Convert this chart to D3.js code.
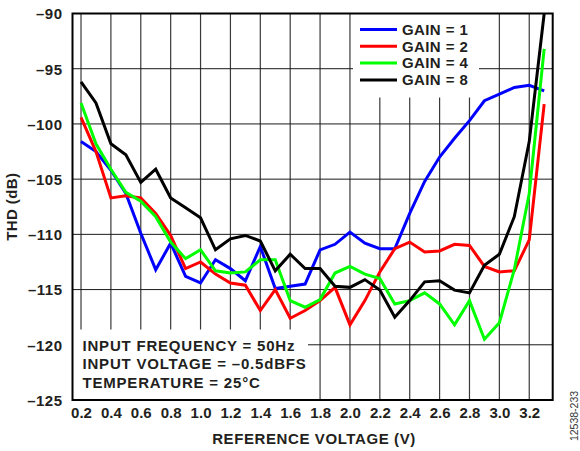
<!DOCTYPE html>
<html>
<head>
<meta charset="utf-8">
<script src="https://cdn.jsdelivr.net/npm/d3@7"></script>
<style>
  html, body { margin: 0; padding: 0; background: #fff; }
  svg { display: block; }
  text { font-family: "Liberation Sans", Arial, sans-serif; }
</style>
</head>
<body>
<svg id="chart" width="580" height="451"></svg>
<script>
// ---- data ----
const voltages = [0.2,0.3,0.4,0.5,0.6,0.7,0.8,0.9,1.0,1.1,1.2,1.3,1.4,1.5,1.6,1.7,1.8,1.9,2.0,2.1,2.2,2.3,2.4,2.5,2.6,2.7,2.8,2.9,3.0,3.1,3.2,3.3];
const gain1 = [-101.6,-102.5,-104.2,-106.3,-109.9,-113.2,-110.8,-113.8,-114.4,-112.3,-113.1,-114.2,-111.1,-114.9,-114.7,-114.5,-111.4,-110.9,-109.8,-110.8,-111.3,-111.3,-108.1,-105.2,-103.0,-101.3,-99.7,-97.9,-97.3,-96.7,-96.5,-97.0];
const gain2 = [-99.4,-102.5,-106.7,-106.5,-106.7,-108.1,-110.1,-113.1,-112.5,-113.6,-114.4,-114.6,-116.9,-115.0,-117.6,-116.9,-116.0,-114.8,-118.2,-116.0,-113.4,-111.3,-110.7,-111.6,-111.5,-110.9,-111.0,-112.9,-113.4,-113.3,-110.5,-98.2];
const gain4 = [-98.1,-101.8,-104.1,-106.2,-107.0,-108.4,-110.7,-112.2,-111.4,-113.3,-113.5,-113.4,-112.3,-112.3,-116.0,-116.6,-115.9,-113.5,-112.9,-113.6,-114.0,-116.3,-116.0,-115.3,-116.3,-118.2,-116.0,-119.5,-118.0,-113.2,-106.3,-93.2];
const gain8 = [-96.2,-98.1,-101.8,-102.8,-105.3,-104.1,-106.7,-107.6,-108.5,-111.4,-110.4,-110.1,-110.6,-113.3,-111.8,-113.1,-113.1,-114.7,-114.8,-114.1,-115.05,-117.5,-116.0,-114.3,-114.2,-115.05,-115.3,-112.8,-111.8,-108.4,-101.6,-90.0];
const seriesNames = ["GAIN = 1","GAIN = 2","GAIN = 4","GAIN = 8"];
const seriesColors = ["#0000ff","#ff0000","#00ff00","#000000"];
const xTicks = [0.2,0.4,0.6,0.8,1.0,1.2,1.4,1.6,1.8,2.0,2.2,2.4,2.6,2.8,3.0,3.2];
const yTicks = [-90,-95,-100,-105,-110,-115,-120,-125];
const notes = ["INPUT FREQUENCY = 50Hz","INPUT VOLTAGE = \u20130.5dBFS","TEMPERATURE = 25\u00B0C"];

// ---- layout ----
const svg = d3.select("#chart");
const L = 72.5, R = 552.7, T = 13.5, B = 400;
const x = d3.scaleLinear().domain([0.143, 3.357]).range([L, R]);
const y = d3.scaleLinear().domain([-125, -90]).range([B, T]);
const textColor = "#231f20";
const FS = 15;

svg.append("defs").append("clipPath").attr("id","clip")
  .append("rect").attr("x", L).attr("y", T).attr("width", R-L).attr("height", B-T);

// grid
const grid = svg.append("g");
grid.selectAll("line.v").data(xTicks).enter().append("line")
  .attr("x1", d => x(d)).attr("x2", d => x(d)).attr("y1", T).attr("y2", B)
  .attr("stroke", "#3a3a3a").attr("stroke-width", 1.2);
grid.selectAll("line.h").data(yTicks.slice(1, -1)).enter().append("line")
  .attr("x1", L).attr("x2", R).attr("y1", d => y(d)).attr("y2", d => y(d))
  .attr("stroke", "#1a1a1a").attr("stroke-width", 1);

// series lines
const allSeries = [gain1, gain2, gain4, gain8];
const line = d3.line().x((d, i) => x(voltages[i])).y(d => y(d));
const lines = svg.append("g").attr("clip-path", "url(#clip)");
allSeries.forEach((s, k) => {
  lines.append("path").datum(s).attr("d", line)
    .attr("fill", "none").attr("stroke", seriesColors[k])
    .attr("stroke-width", 3).attr("stroke-linejoin", "miter").attr("stroke-miterlimit", 3);
});

// legend box
const lgX = 353, lgY = T, lgW = 126, lgH = 84;
svg.append("rect").attr("x", lgX).attr("y", lgY).attr("width", lgW).attr("height", lgH).attr("fill", "#fff");
const lg = svg.append("g");
seriesNames.forEach((n, k) => {
  const yy = 29.5 + k * 16.8;
  lg.append("line").attr("x1", 360).attr("x2", 397).attr("y1", yy).attr("y2", yy)
    .attr("stroke", seriesColors[k]).attr("stroke-width", 3);
  lg.append("text").attr("x", 402).attr("y", yy + 5.3)
    .attr("font-size", FS).attr("letter-spacing", 0.4).attr("font-weight", "bold").attr("fill", textColor).text(n);
});

// note box
svg.append("rect").attr("x", L).attr("y", 329.5).attr("width", 308 - L).attr("height", B - 329.5).attr("fill", "#fff");
notes.forEach((t, i) => {
  svg.append("text").attr("x", 82.5).attr("y", 351 + i * 18.3)
    .attr("font-size", FS).attr("letter-spacing", 0.8).attr("font-weight", "bold").attr("fill", textColor).text(t);
});

// frame
svg.append("rect").attr("x", L).attr("y", T).attr("width", R - L).attr("height", B - T)
  .attr("fill", "none").attr("stroke", "#000").attr("stroke-width", 2);

// axes labels
const xAxis = d3.axisBottom(x).tickValues(xTicks).tickSize(0).tickPadding(0).tickFormat(d3.format(".1f"));
const gx = svg.append("g").attr("transform", `translate(0,${B})`).call(xAxis);
gx.select(".domain").remove();
gx.selectAll("text").attr("dy", null).attr("y", 18).attr("font-size", FS).attr("font-weight", "bold")
  .attr("fill", textColor).attr("font-family", "Liberation Sans, Arial, sans-serif");

const yAxis = d3.axisLeft(y).tickValues(yTicks).tickSize(0).tickPadding(0)
  .tickFormat(d => "\u2013" + Math.abs(d));
const gy = svg.append("g").attr("transform", `translate(${L},0)`).call(yAxis);
gy.select(".domain").remove();
gy.selectAll("text").attr("x", -10).attr("dy", "0.36em").attr("font-size", FS).attr("font-weight", "bold")
  .attr("letter-spacing", 0.5).attr("fill", textColor).attr("font-family", "Liberation Sans, Arial, sans-serif");

// titles
svg.append("text").attr("x", 314).attr("y", 444).attr("text-anchor", "middle")
  .attr("font-size", FS).attr("letter-spacing", 0.6).attr("font-weight", "bold").attr("fill", textColor).text("REFERENCE VOLTAGE (V)");
svg.append("text").attr("transform", `translate(17,${(T + B) / 2}) rotate(-90)`).attr("text-anchor", "middle")
  .attr("font-size", FS).attr("letter-spacing", 0.4).attr("font-weight", "bold").attr("fill", textColor).text("THD (dB)");
svg.append("text").attr("transform", `translate(578,416) rotate(-90)`).attr("text-anchor", "middle")
  .attr("font-size", 10.5).attr("fill", "#333").text("12538-233");
</script>
</body>
</html>
